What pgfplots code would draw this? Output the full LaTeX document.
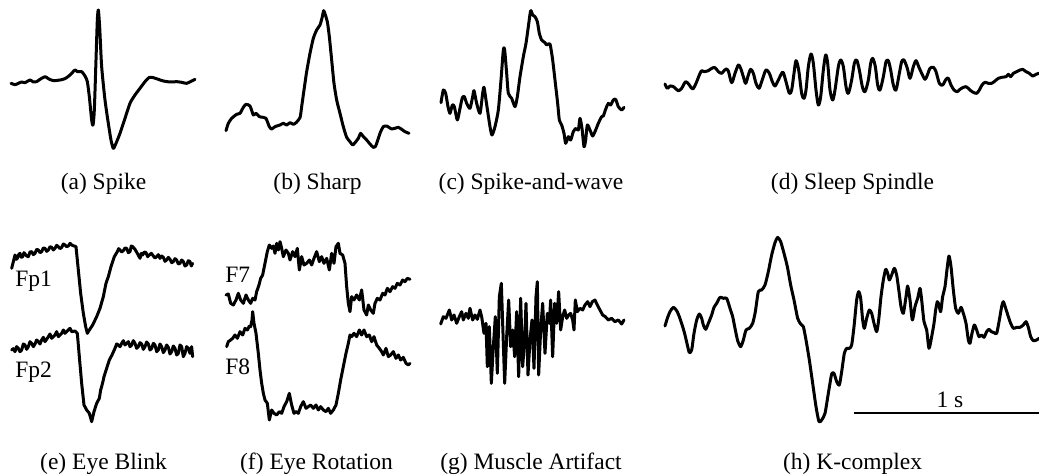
\documentclass[border=0pt]{standalone}
\usepackage{pgfplots}
\pgfplotsset{compat=1.18}
\usepackage{fontspec}
\setmainfont{Liberation Serif}
\pgfplotsset{
  panel/.style={scale only axis, axis lines=none, y dir=reverse, clip=false,
    anchor=north west, xmin=0, ymin=0},
  trace/.style={black, line width=1.5pt, line join=round, line cap=round, no markers},
}
\begin{document}
\fontsize{11.75}{14}\selectfont
\begin{tikzpicture}
\useasboundingbox (0pt,0pt) rectangle (519.5pt,-237.5pt);

% (a) Spike
\begin{axis}[panel, at={(0pt,0pt)}, width=105pt, height=80pt, xmax=630, ymax=480]
\addplot[trace, smooth, tension=0.4] coordinates {
(33,250)(45,254)(55,250)(65,246)(75,248)(90,240)(100,246)(110,245)(120,238)(135,230)(145,236)(160,242)(180,240)(195,236)(210,225)(225,210)(232,215)(245,215)(255,228)(262,245)(268,290)(275,360)(279,375)(283,330)(288,180)(292,60)(295,30)(299,80)(305,200)(315,300)(325,370)(333,420)(340,445)(348,430)(360,400)(375,355)(390,310)(405,285)(420,265)(435,245)(448,232)(460,233)(475,238)(490,243)(510,246)(530,245)(545,247)(560,250)(575,243)(585,238)};
\end{axis}

% (b) Sharp
\begin{axis}[panel, at={(105pt,0pt)}, width=105pt, height=80pt, xmax=630, ymax=480]
\addplot[trace, smooth, tension=0.4] coordinates {
(48,392)(55,370)(65,355)(80,343)(90,340)(100,322)(108,313)(120,318)(130,345)(138,340)(148,350)(160,352)(168,355)(178,380)(185,387)(195,380)(210,375)(220,370)(230,375)(240,368)(250,373)(258,368)(270,353)(275,320)(282,270)(290,215)(300,160)(310,115)(320,90)(330,75)(337,50)(341,32)(345,42)(352,65)(358,110)(365,180)(372,250)(380,300)(390,340)(400,380)(410,412)(420,425)(428,435)(435,428)(445,415)(452,400)(460,410)(470,420)(480,432)(490,442)(497,438)(505,415)(512,395)(520,380)(530,378)(545,387)(555,385)(565,382)(575,388)(585,395)(597,400)};
\end{axis}

% (c) Spike-and-wave
\begin{axis}[panel, at={(210pt,0pt)}, width=110pt, height=80pt, xmax=660, ymax=480]
\addplot[trace, smooth, tension=0.4] coordinates {
(63,308)(70,270)(77,280)(84,320)(90,340)(97,315)(103,320)(112,360)(120,325)(127,293)(133,290)(140,310)(150,325)(158,290)(162,272)(170,310)(180,340)(188,280)(192,262)(198,300)(210,380)(216,405)(225,380)(235,330)(243,240)(250,150)(254,150)(260,220)(265,280)(275,295)(285,320)(292,290)(300,230)(310,170)(318,130)(325,80)(332,32)(338,45)(345,50)(352,65)(358,100)(365,120)(375,128)(380,135)(390,132)(398,180)(405,240)(413,310)(418,360)(425,375)(432,400)(437,430)(445,410)(452,420)(460,395)(468,385)(475,390)(480,355)(486,385)(492,440)(497,420)(502,375)(510,390)(518,408)(527,390)(535,370)(545,350)(550,348)(558,325)(565,310)(572,315)(580,300)(587,298)(595,320)(605,330)(612,322)};
\end{axis}

% (d) Sleep Spindle
\begin{axis}[panel, at={(325pt,-15pt)}, width=194.5pt, height=55pt, xmax=1167, ymax=330]
\addplot[trace, smooth, tension=0.5] coordinates {
(45,162)(52,175)(60,168)(70,170)(85,182)(95,175)(107,155)(118,165)(128,177)(138,160)(148,135)(155,122)(162,125)(175,122)(185,115)(195,113)(205,125)(215,130)(222,122)(228,117)(235,123)(245,158)(255,130)(265,105)(272,115)(280,140)(287,160)(295,135)(302,118)(310,130)(318,160)(327,175)(335,155)(345,125)(350,120)(358,130)(367,155)(375,168)(385,150)(395,130)(400,128)(408,155)(418,190)(425,180)(432,130)(438,92)(446,120)(455,190)(462,205)(468,180)(475,110)(483,72)(490,100)(498,180)(505,225)(512,200)(520,120)(527,75)(533,100)(540,180)(548,210)(555,180)(565,110)(572,90)(580,110)(588,170)(595,190)(605,150)(613,100)(620,90)(628,120)(637,170)(645,185)(655,150)(662,100)(668,85)(676,110)(683,165)(690,180)(700,140)(708,95)(715,92)(722,120)(730,165)(738,180)(748,130)(755,95)(762,90)(772,115)(780,145)(790,110)(798,92)(806,110)(815,130)(825,148)(832,135)(840,115)(850,112)(858,125)(868,160)(878,165)(888,148)(895,145)(903,165)(912,180)(922,185)(930,178)(940,172)(948,170)(955,175)(962,182)(970,187)(980,190)(988,180)(996,165)(1005,157)(1015,160)(1025,160)(1035,153)(1045,145)(1055,142)(1068,140)(1075,133)(1082,140)(1090,130)(1100,125)(1110,120)(1118,118)(1128,125)(1138,130)(1148,138)(1158,133)(1167,130)};
\end{axis}

% (e) Eye Blink
\begin{axis}[panel, at={(0pt,-110pt)}, width=105pt, height=105pt, xmax=630, ymax=630]
\addplot[trace] coordinates {
(35,145)(40,125)(45,105)(49,118)(52,115)(56,104)(60,100)(64,112)(68,110)(72,98)(75,102)(80,108)(85,110)(90,96)(95,95)(100,104)(105,100)(110,88)(115,90)(120,98)(125,95)(130,84)(135,85)(140,94)(145,90)(150,80)(155,82)(160,90)(165,85)(170,76)(175,80)(180,86)(185,82)(190,72)(195,75)(200,80)(205,78)(210,70)(215,75)(222,78)(228,80)(235,150)(242,220)(250,280)(257,320)(262,340)(268,330)(278,315)(290,290)(300,265)(310,230)(318,190)(325,170)(333,140)(343,110)(352,95)(356,86)(360,90)(365,96)(370,92)(375,84)(380,85)(385,98)(390,95)(394,78)(398,80)(405,88)(412,100)(420,115)(424,100)(428,105)(433,96)(438,98)(443,110)(448,105)(454,100)(460,108)(465,114)(470,110)(475,104)(480,115)(485,108)(490,112)(495,124)(500,120)(505,112)(510,118)(515,128)(520,125)(525,116)(530,120)(535,132)(540,130)(545,120)(550,125)(555,138)(560,135)(565,122)(570,125)(574,138)(578,130)};
\addplot[trace] coordinates {
(35,390)(40,386)(45,395)(50,380)(55,385)(60,395)(65,390)(70,372)(75,375)(80,388)(85,380)(90,365)(95,370)(100,380)(105,372)(110,360)(115,365)(120,372)(125,360)(130,352)(135,365)(140,358)(145,350)(150,342)(155,355)(160,350)(165,345)(170,335)(175,350)(180,345)(185,340)(190,330)(195,340)(200,335)(205,330)(210,325)(215,335)(225,333)(232,340)(238,410)(245,490)(252,555)(260,570)(268,580)(275,605)(282,575)(290,550)(298,535)(302,510)(305,500)(310,480)(312,470)(320,445)(328,420)(336,405)(345,385)(350,372)(355,375)(360,380)(365,370)(370,362)(375,375)(380,370)(385,365)(390,380)(395,375)(400,362)(405,370)(410,385)(415,380)(420,368)(425,372)(430,388)(435,380)(440,366)(445,372)(450,390)(455,385)(460,370)(465,375)(470,395)(475,390)(480,372)(485,380)(490,398)(495,390)(500,375)(505,382)(510,402)(515,395)(520,378)(525,385)(530,405)(535,400)(540,375)(545,380)(550,410)(555,400)(560,380)(565,385)(570,400)(575,380)(578,410)};
\end{axis}

% (f) Eye Rotation
\begin{axis}[panel, at={(105pt,-110pt)}, width=105pt, height=105pt, xmax=630, ymax=630]
\addplot[trace] coordinates {
(48,225)(55,222)(62,250)(70,255)(78,240)(85,220)(92,240)(100,250)(108,225)(115,240)(122,250)(128,235)(135,240)(140,215)(147,195)(152,175)(158,165)(165,130)(172,95)(178,75)(185,85)(190,78)(195,100)(200,70)(205,90)(210,65)(215,85)(220,110)(228,90)(235,100)(240,120)(248,95)(255,110)(262,85)(268,150)(275,110)(282,135)(290,130)(298,120)(305,135)(312,115)(320,95)(328,125)(335,110)(342,130)(350,115)(358,150)(365,100)(372,130)(378,80)(385,70)(390,100)(398,105)(405,130)(410,200)(415,250)(420,275)(425,230)(432,240)(440,225)(448,240)(455,210)(462,270)(470,285)(475,255)(482,270)(490,280)(495,250)(502,235)(510,240)(518,220)(525,225)(532,205)(540,215)(548,200)(555,205)(562,190)(570,195)(578,180)(585,185)(592,175)(600,178)};
\addplot[trace] coordinates {
(50,380)(55,365)(62,360)(68,355)(75,345)(82,355)(90,335)(98,345)(105,325)(112,330)(118,318)(122,320)(126,300)(128,275)(132,310)(138,340)(145,400)(150,450)(155,490)(160,520)(165,540)(172,550)(178,600)(185,570)(192,580)(200,585)(208,575)(215,580)(222,560)(230,545)(238,520)(245,555)(252,580)(258,575)(265,580)(272,560)(280,545)(288,565)(295,560)(302,555)(310,565)(318,555)(325,570)(332,560)(340,570)(348,575)(355,565)(362,580)(370,570)(378,555)(385,520)(392,480)(400,440)(408,400)(415,370)(420,345)(425,350)(432,340)(440,350)(448,330)(455,345)(462,330)(470,350)(478,345)(485,365)(492,350)(500,375)(508,385)(515,395)(520,405)(528,385)(535,410)(542,405)(550,395)(558,415)(565,405)(572,420)(580,412)(588,430)(595,435)(600,430)};
\end{axis}

% (g) Muscle Artifact
\begin{axis}[panel, at={(210pt,-110pt)}, width=110pt, height=105pt, xmax=660, ymax=630]
\addplot[trace] coordinates {
(62,312)(70,290)(78,295)(88,270)(95,300)(102,285)(110,310)(118,290)(125,275)(130,300)(138,280)(145,295)(150,265)(158,300)(165,285)(172,298)(180,270)(185,290)(192,340)(198,310)(202,440)(208,320)(214,490)(220,380)(226,290)(232,460)(238,230)(244,190)(248,310)(254,490)(260,350)(266,240)(272,380)(278,330)(284,410)(290,275)(296,470)(302,235)(308,440)(314,360)(318,250)(324,465)(330,360)(336,300)(342,445)(348,230)(352,185)(356,465)(362,330)(368,250)(375,400)(382,280)(388,310)(392,240)(398,410)(404,250)(410,310)(416,215)(422,330)(428,290)(434,270)(440,295)(446,285)(452,280)(458,300)(462,330)(466,240)(472,275)(480,265)(488,270)(495,255)(503,245)(510,260)(517,245)(525,240)(532,255)(540,270)(548,285)(556,290)(565,300)(575,295)(585,305)(595,300)(605,312)(612,300)};
\end{axis}

% (h) K-complex
\begin{axis}[panel, at={(325pt,-110pt)}, width=194.5pt, height=105pt, xmax=1167, ymax=630]
\addplot[trace, smooth, tension=0.4] coordinates {
(45,318)(52,295)(60,275)(70,262)(80,272)(88,290)(98,320)(105,345)(112,375)(118,398)(125,390)(132,340)(140,300)(148,282)(155,295)(160,315)(167,328)(175,310)(185,285)(192,262)(200,250)(210,232)(220,235)(230,235)(240,265)(248,290)(256,330)(263,362)(272,380)(280,360)(288,330)(298,325)(308,310)(316,275)(325,215)(335,210)(345,195)(355,155)(365,105)(375,68)(383,52)(392,65)(402,100)(412,140)(422,195)(432,240)(443,295)(452,312)(460,320)(468,360)(478,420)(488,490)(498,560)(507,605)(515,600)(525,580)(535,520)(545,462)(552,460)(560,485)(568,495)(575,455)(583,400)(590,385)(598,385)(605,375)(612,320)(620,240)(626,215)(632,235)(638,300)(643,325)(650,295)(658,270)(665,280)(672,310)(680,335)(686,300)(693,230)(700,180)(707,148)(713,160)(718,180)(725,165)(733,145)(740,165)(747,215)(753,260)(760,280)(768,230)(773,198)(780,240)(787,300)(795,260)(803,235)(810,205)(815,240)(822,305)(830,330)(837,385)(845,350)(852,310)(857,270)(862,245)(867,255)(872,275)(878,230)(885,200)(892,140)(897,108)(903,140)(910,210)(917,265)(925,280)(933,262)(940,280)(948,310)(955,360)(960,370)(966,340)(973,315)(980,330)(987,350)(995,345)(1002,352)(1010,335)(1017,328)(1024,335)(1032,338)(1040,340)(1048,300)(1055,260)(1060,245)(1068,268)(1075,290)(1082,310)(1090,325)(1100,322)(1110,322)(1120,315)(1128,305)(1135,322)(1142,350)(1150,362)(1160,360)(1167,355)};
\draw[black, line width=0.9pt] (axis cs:612,580) -- (axis cs:1167,580);
\node[anchor=base] at (axis cs:900,563) {1 s};
\end{axis}

% channel labels
\node[anchor=base west, inner sep=0pt] at (7.5pt,-143.3pt) {Fp1};
\node[anchor=base west, inner sep=0pt] at (7.5pt,-189pt) {Fp2};
\node[anchor=base west, inner sep=0pt] at (112.5pt,-141.5pt) {F7};
\node[anchor=base west, inner sep=0pt] at (112.5pt,-187.5pt) {F8};

% captions
\node[anchor=base, inner sep=0pt] at (51.75pt,-95pt) {(a) Spike};
\node[anchor=base, inner sep=0pt] at (158.75pt,-95pt) {(b) Sharp};
\node[anchor=base, inner sep=0pt] at (265.5pt,-95pt) {(c) Spike-and-wave};
\node[anchor=base, inner sep=0pt] at (426.25pt,-95pt) {(d) Sleep Spindle};
\node[anchor=base, inner sep=0pt] at (51.75pt,-235pt) {(e) Eye Blink};
\node[anchor=base, inner sep=0pt] at (158.25pt,-235pt) {(f) Eye Rotation};
\node[anchor=base, inner sep=0pt] at (265.5pt,-235pt) {(g) Muscle Artifact};
\node[anchor=base, inner sep=0pt] at (426.25pt,-235pt) {(h) K-complex};
\end{tikzpicture}
\end{document}
